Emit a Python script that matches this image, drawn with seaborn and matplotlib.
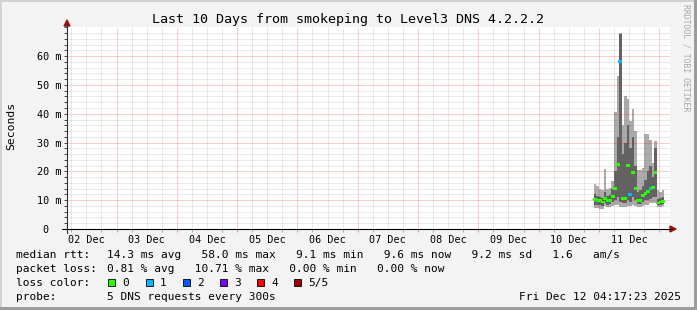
import numpy as np
import pandas as pd
import matplotlib
matplotlib.use("Agg")
import matplotlib.pyplot as plt
import matplotlib.dates as mdates
from matplotlib.ticker import MultipleLocator
from matplotlib.patches import Rectangle, Polygon
from matplotlib.lines import Line2D
from matplotlib.markers import MarkerStyle
from matplotlib.path import Path
import seaborn as sns

# ---------------- data ----------------
TITLE = "Last 10 Days from smokeping to Level3 DNS 4.2.2.2"
NOW = pd.Timestamp("2025-12-12 04:17:23")
bin_start = pd.date_range("2025-12-10 22:00", periods=28, freq="h")

median_ms = [10.2, 10.0, 9.8, 9.4, 10.6, 9.8, 9.8, 11.3, 14.0, 22.3, 58.0, 10.6, 10.6, 22.0,
             12.1, 19.5, 14.0, 10.0, 10.0, 11.5, 12.4, 12.9, 14.0, 14.4, 19.6, 9.0, 9.4, 9.6]
min_ms = [7.4, 7.3, 7.0, 7.0, 8.0, 7.5, 7.6, 8.0, 8.2, 8.5, 7.5, 7.5, 7.8, 8.0,
          8.0, 8.5, 8.0, 7.5, 7.5, 8.0, 8.5, 8.5, 9.0, 9.0, 9.0, 7.5, 7.8, 8.0]
low_ms = [8.5, 8.5, 8.2, 8.0, 9.0, 8.5, 8.6, 9.2, 10.0, 11.0, 9.5, 9.0, 9.0, 10.0,
          9.5, 11.0, 10.0, 8.8, 8.8, 9.5, 10.0, 10.0, 10.5, 11.0, 11.0, 8.2, 8.5, 8.7]
high_ms = [12.0, 11.5, 11.0, 10.8, 13.0, 11.5, 11.8, 14.0, 20.0, 32.0, 67.8, 26.0, 30.0, 36.0,
           28.0, 32.0, 22.0, 13.0, 13.5, 15.0, 17.0, 20.0, 22.0, 18.0, 28.0, 10.5, 10.8, 11.0]
max_ms = [15.6, 15.0, 13.9, 13.5, 20.9, 14.0, 14.2, 16.5, 40.6, 53.0, 68.0, 36.0, 46.0, 45.2,
          37.5, 41.6, 34.0, 20.6, 20.6, 21.0, 33.0, 33.0, 31.0, 23.0, 30.6, 13.5, 13.0, 13.5]
loss_count = [0, 0, 0, 0, 0, 0, 0, 0, 0, 0, 1, 0, 0, 0,
              1, 0, 0, 0, 0, 0, 0, 0, 1, 0, 0, 0, 0, 0]

loss_levels = ["0", "1", "2", "3", "4", "5/5"]
loss_colors = ["#26ff00", "#00b8ff", "#0059ff", "#7e00ff", "#ff0000", "#a00000"]

y_ticks = [0, 10, 20, 30, 40, 50, 60]
y_tick_labels = ["0  ", "10 m", "20 m", "30 m", "40 m", "50 m", "60 m"]

rtt_label = "median rtt:"
rtt_values = "14.3 ms avg   58.0 ms max   9.1 ms min   9.6 ms now   9.2 ms sd   1.6   am/s"
loss_label = "packet loss:"
loss_values = "0.81 % avg   10.71 % max   0.00 % min   0.00 % now"
color_label = "loss color:"
probe_label = "probe:"
probe_text = "5 DNS requests every 300s"
date_text = "Fri Dec 12 04:17:23 2025"
side_text = "RRDTOOL / TOBI OETIKER"

# ---------------- figure ----------------
W, H = 697, 310
sns.set_theme(style="white")
plt.rcParams["font.family"] = ["DejaVu Sans Mono", "DejaVu Sans"]
plt.rcParams["text.color"] = "black"

fig = plt.figure(figsize=(W / 100, H / 100), dpi=100, facecolor="#f3f3f3")


def fx(x):
    return x / W


def fy(y):
    return 1 - y / H


ax = fig.add_axes([fx(67), fy(229), (670 - 67) / W, (229 - 27.3) / H])
ax.set_facecolor("white")

x0 = mdates.date2num(bin_start.to_pydatetime())
w = 1 / 24
lo = np.array(min_ms)
hi = np.array(max_ms)
q1 = np.array(low_ms)
q3 = np.array(high_ms)
ax.bar(x0, hi - lo, bottom=lo, width=w, align="edge", color="#ababab",
       linewidth=0, antialiased=False, zorder=2)
ax.bar(x0, q3 - q1, bottom=q1, width=w, align="edge", color="#626262",
       linewidth=0, antialiased=False, zorder=3)

# median: short wide bar marker per bin, coloured by loss
seg = MarkerStyle(Path([(-1.0, -0.75), (1.0, -0.75), (1.0, 0.75), (-1.0, 0.75), (-1.0, -0.75)],
                       [Path.MOVETO, Path.LINETO, Path.LINETO, Path.LINETO, Path.CLOSEPOLY]))
df = pd.DataFrame({"t": x0 + w / 2, "median": median_ms,
                   "loss": [loss_levels[i] for i in loss_count]})
sns.scatterplot(data=df, x="t", y="median", hue="loss", hue_order=loss_levels,
                palette=dict(zip(loss_levels, loss_colors)), marker=seg, s=7,
                linewidth=0, edgecolor="none", legend=False, ax=ax, zorder=6)

start = NOW - pd.Timedelta(days=10)
xmin = mdates.date2num(start.to_pydatetime())
xmax = mdates.date2num(NOW.to_pydatetime())
ax.set_xlim(xmin, xmax)
ax.set_ylim(0, 70)

# grid (drawn over the smoke like rrdtool)
dot = (0, (1, 1))
grid_times = pd.date_range(start.ceil("6h"), NOW, freq="6h")
for t in grid_times:
    d = mdates.date2num(t.to_pydatetime())
    if t.hour == 0:
        ax.axvline(d, color=(1, 0, 0, 0.38), lw=0.72, ls=dot, zorder=4)
    else:
        ax.axvline(d, color=(0.45, 0.45, 0.45, 0.3), lw=0.72, ls=dot, zorder=4)
for v in range(2, 70, 2):
    if v % 10 == 0:
        ax.axhline(v, color=(1, 0, 0, 0.38), lw=0.72, ls=dot, zorder=4)
    else:
        ax.axhline(v, color=(0.45, 0.45, 0.45, 0.3), lw=0.72, ls=dot, zorder=4)

for s in ax.spines.values():
    s.set_visible(False)

ax.set_yticks(y_ticks)
ax.set_yticklabels(y_tick_labels)
ax.yaxis.set_minor_locator(MultipleLocator(2))
ax.tick_params(axis="y", which="both", left=True, direction="out", length=2,
               width=0.7, color="#444444", pad=2, labelsize=7.3, labelcolor="black")
ax.xaxis.set_major_locator(mdates.HourLocator(byhour=[12]))
ax.xaxis.set_major_formatter(mdates.DateFormatter("%d %b"))
ax.xaxis.set_minor_locator(mdates.HourLocator(byhour=[0, 6, 18]))
ax.tick_params(axis="x", which="major", bottom=True, length=0, pad=4,
               labelsize=7.3, labelcolor="black")
ax.tick_params(axis="x", which="minor", bottom=True, length=2, direction="out",
               width=0.7, color="#aaaaaa")
ax.set_xlabel("")
ax.set_ylabel("")

# axis lines with arrows
fig.add_artist(Line2D([fx(62), fx(672)], [fy(229), fy(229)], transform=fig.transFigure,
                      color="black", lw=0.8))
fig.add_artist(Line2D([fx(67), fx(67)], [fy(233), fy(24)], transform=fig.transFigure,
                      color="#303030", lw=0.8))
fig.add_artist(Polygon([(fx(670), fy(226)), (fx(676), fy(229)), (fx(670), fy(232))],
                       closed=True, transform=fig.transFigure, color="#a01010"))
fig.add_artist(Polygon([(fx(64), fy(26)), (fx(67), fy(20)), (fx(70), fy(26))],
                       closed=True, transform=fig.transFigure, color="#a01010"))

# borders
fig.add_artist(Rectangle((0, 1 - 2 / H), 1, 2 / H, transform=fig.transFigure,
                         color="#d2d2d2", lw=0))
fig.add_artist(Rectangle((0, 0), 2 / W, 1, transform=fig.transFigure,
                         color="#d2d2d2", lw=0))
fig.add_artist(Rectangle((fx(694), 0), 3 / W, 1, transform=fig.transFigure,
                         color="#9c9c9c", lw=0))
fig.add_artist(Rectangle((0, 0), 1, 3 / H, transform=fig.transFigure,
                         color="#9c9c9c", lw=0))

# texts
fig.text(fx(347.5), fy(23.3), TITLE, ha="center", va="baseline", fontsize=9.6)
fig.text(fx(11), fy(126), "Seconds", rotation=90, ha="center", va="center", fontsize=8.2)
fig.text(fx(686), fy(4), side_text, rotation=270, ha="center", va="top",
         fontsize=5.9, color="#a8a8a8")

FS = 8.0
VX = 106.6
fig.text(fx(16), fy(258), rtt_label, ha="left", va="baseline", fontsize=FS)
fig.text(fx(VX), fy(258), rtt_values, ha="left", va="baseline", fontsize=FS)
fig.text(fx(16), fy(272), loss_label, ha="left", va="baseline", fontsize=FS)
fig.text(fx(VX), fy(272), loss_values, ha="left", va="baseline", fontsize=FS)
fig.text(fx(16), fy(286), color_label, ha="left", va="baseline", fontsize=FS)
box_x = [108, 145.5, 182.5, 219.5, 256.5, 293.5]
for bx, lab, col in zip(box_x, loss_levels, loss_colors):
    fig.add_artist(Rectangle((fx(bx), fy(286)), 7 / W, 7 / H, transform=fig.transFigure,
                             facecolor=col, edgecolor="black", lw=0.6))
    fig.text(fx(bx + 14.5), fy(286), lab, ha="left", va="baseline", fontsize=FS)
fig.text(fx(16), fy(300), probe_label, ha="left", va="baseline", fontsize=FS)
fig.text(fx(VX), fy(300), probe_text, ha="left", va="baseline", fontsize=FS)
fig.text(fx(681), fy(300), date_text, ha="right", va="baseline", fontsize=FS)

fig.savefig("out.png", dpi=100, facecolor=fig.get_facecolor())
